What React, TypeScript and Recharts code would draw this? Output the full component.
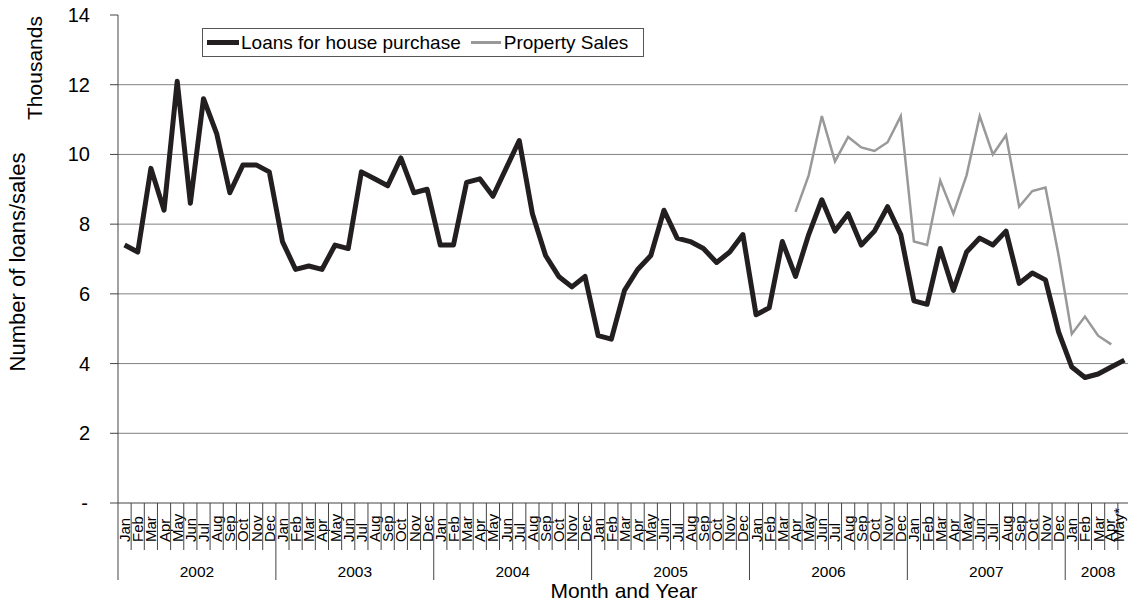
import { CartesianGrid, Legend, Line, LineChart, XAxis, YAxis } from "recharts";

const FONT = "'Liberation Sans', Arial, sans-serif";

const monthNames = ["Jan", "Feb", "Mar", "Apr", "May", "Jun", "Jul", "Aug", "Sep", "Oct", "Nov", "Dec"];
const years = [2002, 2003, 2004, 2005, 2006, 2007, 2008];
const monthsIn2008 = ["Jan", "Feb", "Mar", "Apr", "May*"];
const yTicks = [0, 2, 4, 6, 8, 10, 12, 14];

// thousands, Jan 2002 .. May 2008
const loans = [
  7.4, 7.2, 9.6, 8.4, 12.1, 8.6, 11.6, 10.6, 8.9, 9.7, 9.7, 9.5,
  7.5, 6.7, 6.8, 6.7, 7.4, 7.3, 9.5, 9.3, 9.1, 9.9, 8.9, 9.0,
  7.4, 7.4, 9.2, 9.3, 8.8, 9.6, 10.4, 8.3, 7.1, 6.5, 6.2, 6.5,
  4.8, 4.7, 6.1, 6.7, 7.1, 8.4, 7.6, 7.5, 7.3, 6.9, 7.2, 7.7,
  5.4, 5.6, 7.5, 6.5, 7.7, 8.7, 7.8, 8.3, 7.4, 7.8, 8.5, 7.7,
  5.8, 5.7, 7.3, 6.1, 7.2, 7.6, 7.4, 7.8, 6.3, 6.6, 6.4, 4.9,
  3.9, 3.6, 3.7, 3.9, 4.1,
];

// property sales start Apr 2006
const salesStart = 51;
const sales = [
  8.35, 9.4, 11.1, 9.8, 10.5, 10.2, 10.1, 10.35, 11.1,
  7.5, 7.4, 9.25, 8.3, 9.4, 11.1, 10.0, 10.55, 8.5, 8.95, 9.05, 7.1,
  4.85, 5.35, 4.8, 4.55,
];

type Row = { key: string; month: string; year: number; loans: number; sales: number | null };

const rows: Row[] = [];
years.forEach((y) => {
  const ms = y === 2008 ? monthsIn2008 : monthNames;
  ms.forEach((m) => {
    const i = rows.length;
    const s = i - salesStart;
    rows.push({ key: `${y}-${m}`, month: m, year: y, loans: loans[i], sales: s >= 0 && s < sales.length ? sales[s] : null });
  });
});

function MonthTick(props: any) {
  const { x, y, payload, index } = props;
  const band = payload && payload.offset ? payload.offset * 2 : (props.width || 1013) / rows.length;
  const row = rows[index];
  if (!row) return null;
  const left = x - band / 2;
  const first = index === 0 || rows[index - 1].year !== row.year;
  const count = rows.filter((r) => r.year === row.year).length;
  const fromEnd = rows.length - 1 - index;
  // the last two labels are squeezed in so they stay inside the picture
  const tx = x + (fromEnd === 0 ? 0 : fromEnd === 1 ? 3.5 : 5.5);
  return (
    <g>
      <line x1={left} y1={y} x2={left} y2={y + (first ? 77 : 47)} stroke="#444" strokeWidth={1} />
      {fromEnd === 0 ? <line x1={left + band} y1={y} x2={left + band} y2={y + 77} stroke="#444" strokeWidth={1} /> : null}
      <text
        x={tx}
        y={y + 39}
        transform={`rotate(-90, ${tx}, ${y + 39})`}
        textAnchor="start"
        fontSize={15}
        fontFamily={FONT}
        fill="#000"
      >
        {row.month}
      </text>
      {first ? (
        <text x={left + (count * band) / 2} y={y + 74} textAnchor="middle" fontSize={15.5} fontFamily={FONT} fill="#000">
          {row.year}
        </text>
      ) : null}
    </g>
  );
}

function ValueTick(props: any) {
  const { x, y, payload } = props;
  const v = payload.value;
  return (
    <text x={v === 0 ? x - 20 : x - 18} y={y} dy={7} textAnchor="end" fontSize={20} fontFamily={FONT} fill="#000">
      {v === 0 ? "-" : v}
    </text>
  );
}

function YTitles() {
  return (
    <g fontFamily={FONT} fill="#000">
      <text x={25} y={262} transform="rotate(-90, 25, 262)" textAnchor="middle" fontSize={22}>
        Number of loans/sales
      </text>
      <text x={42} y={68} transform="rotate(-90, 42, 68)" textAnchor="middle" fontSize={21}>
        Thousands
      </text>
    </g>
  );
}

function XTitle() {
  return (
    <text x={624} y={598} textAnchor="middle" fontSize={21} fontFamily={FONT} fill="#000">
      Month and Year
    </text>
  );
}

function LegendBox() {
  return (
    <div
      style={{
        border: "1px solid #555",
        height: 29,
        display: "flex",
        alignItems: "center",
        fontFamily: FONT,
        fontSize: 19,
        color: "#000",
        paddingLeft: 4,
        boxSizing: "border-box",
        background: "#fff",
      }}
    >
      <span style={{ display: "inline-block", width: 32, height: 5, background: "#231f20", marginRight: 2 }} />
      <span>Loans for house purchase</span>
      <span style={{ display: "inline-block", width: 30, height: 2.5, background: "#999", marginLeft: 10, marginRight: 3 }} />
      <span>Property Sales</span>
    </div>
  );
}

export default function App() {
  return (
    <div style={{ position: "absolute", left: 0, top: 0, width: 1128, height: 605, overflow: "hidden", background: "#fff" }}>
      <LineChart width={1135} height={605} data={rows} margin={{ top: 15, right: 4, bottom: 0, left: 0 }}>
        <CartesianGrid vertical={false} stroke="#808080" horizontalValues={[2, 4, 6, 8, 10, 12]} />
        <XAxis
          dataKey="key"
          scale="band"
          interval={0}
          height={102}
          tickSize={0}
          tickMargin={0}
          tickLine={false}
          axisLine={{ stroke: "#444" }}
          tick={<MonthTick />}
          label={<XTitle />}
        />
        <YAxis
          domain={[0, 14]}
          ticks={yTicks}
          width={118}
          tickSize={8}
          tickLine={{ stroke: "#444" }}
          axisLine={{ stroke: "#444" }}
          tick={<ValueTick />}
          label={<YTitles />}
          allowDataOverflow
        />
        <Legend
          layout="horizontal"
          verticalAlign="middle"
          align="center"
          content={<LegendBox />}
          wrapperStyle={{ left: 202, top: 28, width: 442, height: 31 }}
        />
        <Line dataKey="loans" name="Loans for house purchase" stroke="#231f20" strokeWidth={5} strokeLinejoin="round" dot={false} isAnimationActive={false} />
        <Line dataKey="sales" name="Property Sales" stroke="#999" strokeWidth={2.5} dot={false} isAnimationActive={false} />
      </LineChart>
    </div>
  );
}
